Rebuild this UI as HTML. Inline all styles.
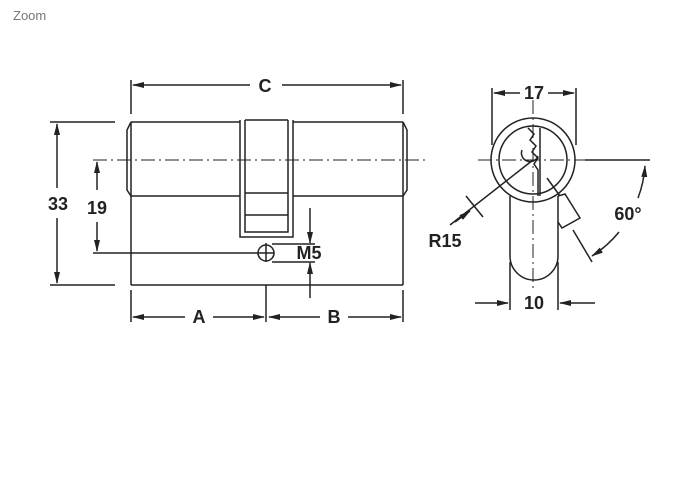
<!DOCTYPE html>
<html><head><style>
body{margin:0;background:#fff;width:698px;height:500px;overflow:hidden;font-family:"Liberation Sans",sans-serif}
.z{position:absolute;left:13px;top:8px;font-size:13px;color:#777}
text{font-family:"Liberation Sans",sans-serif;font-weight:bold;font-size:18px;fill:#222}
</style></head><body>
<div class="z">Zoom</div>
<svg width="698" height="500" style="position:absolute;left:0;top:0">
<defs><marker id="a" markerWidth="12" markerHeight="8" refX="11" refY="4" orient="auto" markerUnits="userSpaceOnUse"><path d="M0,1 L12,4 L0,7z" fill="#222"/></marker></defs>
<g stroke="#222" stroke-width="1.5" fill="none">
<path d="M131,122 H240 M293,122 H403 M131,285 H403 M131,122 V285 M403,122 V285"/>
<path d="M131,122 L127,130 V190 L131,196 H240 M293,196 H403 L407,190 V130 L403,122"/>
<path d="M240,120 V237 H293 V120 M245,120 V232 H288 V120 M245,120 H288 M245,193 H288 M245,215 H288"/>
<circle cx="266" cy="253" r="8"/>
<path d="M266,243 V262 M258,253 H274"/>
<path d="M266,285 V322"/>
<path d="M131,80 V114 M403,80 V114"/>
<path d="M250,85 H133" marker-end="url(#a)"/><path d="M282,85 H401" marker-end="url(#a)"/>
<path d="M50,122 H115 M50,285 H115"/>
<path d="M57,188 V124" marker-end="url(#a)"/><path d="M57,218 V283" marker-end="url(#a)"/>
<path d="M93,253 H258"/>
<path d="M97,190 V162" marker-end="url(#a)"/><path d="M97,222 V251" marker-end="url(#a)"/>
<path d="M272,244 H315 M272,262 H315"/>
<path d="M310,208 V243" marker-end="url(#a)"/><path d="M310,298 V263" marker-end="url(#a)"/>
<path d="M131,290 V322 M403,290 V322"/>
<path d="M185,317 H133" marker-end="url(#a)"/><path d="M213,317 H264" marker-end="url(#a)"/>
<path d="M320,317 H269" marker-end="url(#a)"/><path d="M348,317 H401" marker-end="url(#a)"/>
<circle cx="533" cy="160" r="42"/>
<circle cx="533" cy="160" r="34"/>
<path d="M510,196 V256 A24,24 0 0 0 558,256 V196"/>
<path d="M528,128 l6,6 -4,6 6,6 -4,6 6,6 -4,6 4,6 V196 M540,128 V196"/>
<path d="M522,150 a8,8 0 0 0 16,6"/>
<path d="M547,178 L560,196"/>
<path d="M558,196 L565,194 L580,218 L562,228 L558,222"/>
<path d="M573,230 L592,262"/>
<path d="M585,160 H650"/>
<path d="M638,198 A112,112 0 0 0 645,166" marker-end="url(#a)"/>
<path d="M619,232 A112,112 0 0 1 592,256" marker-end="url(#a)"/>
<path d="M533,160 L450,225"/>
<path d="M455,222 L470,211" marker-end="url(#a)"/>
<path d="M466,196 L483,217"/>
<path d="M492,88 V145 M576,88 V145"/>
<path d="M520,93 H494" marker-end="url(#a)"/><path d="M548,93 H574" marker-end="url(#a)"/>
<path d="M510,262 V310 M558,262 V310"/>
<path d="M475,303 H508" marker-end="url(#a)"/><path d="M595,303 H560" marker-end="url(#a)"/>
</g>
<g stroke="#222" stroke-width="1" stroke-dasharray="14,4,2,4" fill="none">
<path d="M93,160 H425"/>
<path d="M478,160 H585"/>
<path d="M533,100 V290"/>
</g>
<text x="265" y="92" text-anchor="middle">C</text>
<text x="58" y="210" text-anchor="middle">33</text>
<text x="97" y="214" text-anchor="middle">19</text>
<text x="309" y="259" text-anchor="middle">M5</text>
<text x="199" y="323" text-anchor="middle">A</text>
<text x="334" y="323" text-anchor="middle">B</text>
<text x="534" y="99" text-anchor="middle">17</text>
<text x="445" y="247" text-anchor="middle">R15</text>
<text x="628" y="220" text-anchor="middle">60°</text>
<text x="534" y="309" text-anchor="middle">10</text>
</svg>
</body></html>
